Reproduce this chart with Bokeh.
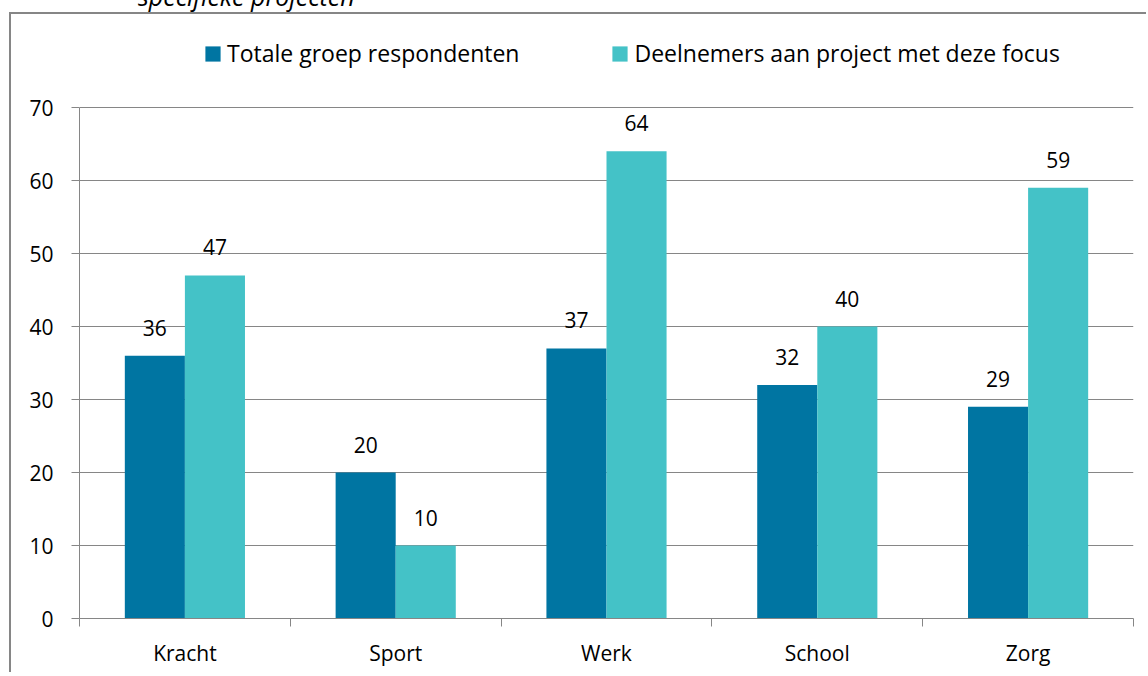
from bokeh.plotting import figure
from bokeh.models import (ColumnDataSource, Range1d, LinearAxis, FixedTicker,
                          Legend, LegendItem, Div)
from bokeh.layouts import column
from bokeh.core.properties import value
from bokeh.embed import file_html
from bokeh.resources import INLINE

# ---- data ----
categories = ["Kracht", "Sport", "Werk", "School", "Zorg"]
totaal = [36, 20, 37, 32, 29]
deelnemers = [47, 10, 64, 40, 59]
series_names = ["Totale groep respondenten", "Deelnemers aan project met deze focus"]
y_ticks = [0, 10, 20, 30, 40, 50, 60, 70]
title_text = "specifieke projecten"

DARK = "#0075A2"
LIGHT = "#44C2C7"
GRAY = "#868686"
FONT = "Open Sans"
FS = "21px"
W = 0.285  # bar width in category units

# layout (canvas pixels): frame spans 16..604 vertically, value axis 70 sits at 93
FRAME_TOP, AXIS_TOP, FRAME_BOTTOM, HEIGHT = 16, 93, 604, 660
y_max = y_ticks[-1] * (FRAME_BOTTOM - FRAME_TOP) / (FRAME_BOTTOM - AXIS_TOP)

centres = [i + 0.5 for i in range(len(categories))]
bounds = list(range(len(categories) + 1))

src = ColumnDataSource(dict(
    cat=categories,
    x1=[c - W / 2 for c in centres],
    x2=[c + W / 2 for c in centres],
    totaal=totaal,
    deelnemers=deelnemers,
    totaal_s=[str(v) for v in totaal],
    deelnemers_s=[str(v) for v in deelnemers],
))

p = figure(
    width=1137, height=HEIGHT,
    x_range=Range1d(0, len(categories)),
    y_range=Range1d(y_ticks[0], y_max),
    output_backend="svg", toolbar_location=None,
    x_axis_location=None, y_axis_location=None,
    min_border_left=68, min_border_right=15, min_border_top=FRAME_TOP,
    min_border_bottom=HEIGHT - FRAME_BOTTOM,
)
p.styles = {"margin-left": "9px", "margin-top": "-1px",
            "border-left": f"2px solid {GRAY}", "border-top": f"2px solid {GRAY}"}
p.outline_line_color = None
p.background_fill_color = "white"
p.border_fill_color = "white"
p.xgrid.visible = False
p.ygrid.ticker = FixedTicker(ticks=y_ticks)
p.ygrid.grid_line_color = GRAY
p.ygrid.grid_line_width = 1

# y axis
yax = LinearAxis(ticker=FixedTicker(ticks=y_ticks), bounds=(y_ticks[0], y_ticks[-1]))
yax.axis_line_color = GRAY
yax.major_tick_line_color = GRAY
yax.major_tick_out = 8
yax.major_tick_in = 0
yax.minor_tick_line_color = None
yax.major_label_standoff = 18
yax.major_label_text_font = FONT
yax.major_label_text_font_size = FS
yax.major_label_text_color = "black"
p.add_layout(yax, "left")

# x axis: boundary ticks (minor), labels at category centres
xax = LinearAxis(ticker=FixedTicker(ticks=centres, minor_ticks=bounds),
                 major_label_overrides={c: name for c, name in zip(centres, categories)})
xax.axis_line_color = GRAY
xax.major_tick_line_color = None
xax.major_tick_out = 8
xax.major_tick_in = 0
xax.minor_tick_line_color = GRAY
xax.minor_tick_out = 8
xax.minor_tick_in = 0
xax.major_label_standoff = 12
xax.major_label_text_font = FONT
xax.major_label_text_font_size = FS
xax.major_label_text_color = "black"
p.add_layout(xax, "below")

r1 = p.vbar(x="x1", top="totaal", width=W, source=src, fill_color=DARK, line_color=None)
r2 = p.vbar(x="x2", top="deelnemers", width=W, source=src, fill_color=LIGHT, line_color=None)

common = dict(source=src, text_align="center", text_baseline="alphabetic",
              text_font=value(FONT), text_font_size=FS, text_color="black", y_offset=-28)
p.text(x="x1", y="totaal", text="totaal_s", **common)
p.text(x="x2", y="deelnemers", text="deelnemers_s", **common)

# legend in the top strip of the plot area
lg = Legend(items=[LegendItem(label=series_names[0], renderers=[r1]),
                   LegendItem(label=series_names[1], renderers=[r2])],
            location=(124, 549), orientation="horizontal",
            padding=0, margin=0, spacing=91,
            glyph_width=19, glyph_height=19, label_standoff=5, label_height=15,
            label_text_font=FONT, label_text_font_size="23px", label_text_color="black",
            border_line_color=None, background_fill_alpha=0)
p.add_layout(lg, "center")

# cropped heading above the chart box
title_div = Div(text=title_text, width=400, height=24,
                styles={"font-family": FONT, "font-size": "25px", "font-style": "italic",
                        "line-height": "24px", "color": "black", "white-space": "nowrap",
                        "margin-left": "138px", "margin-top": "-16px"})

root = column(title_div, p, spacing=0)
open("out.html", "w").write(file_html(root, INLINE))
